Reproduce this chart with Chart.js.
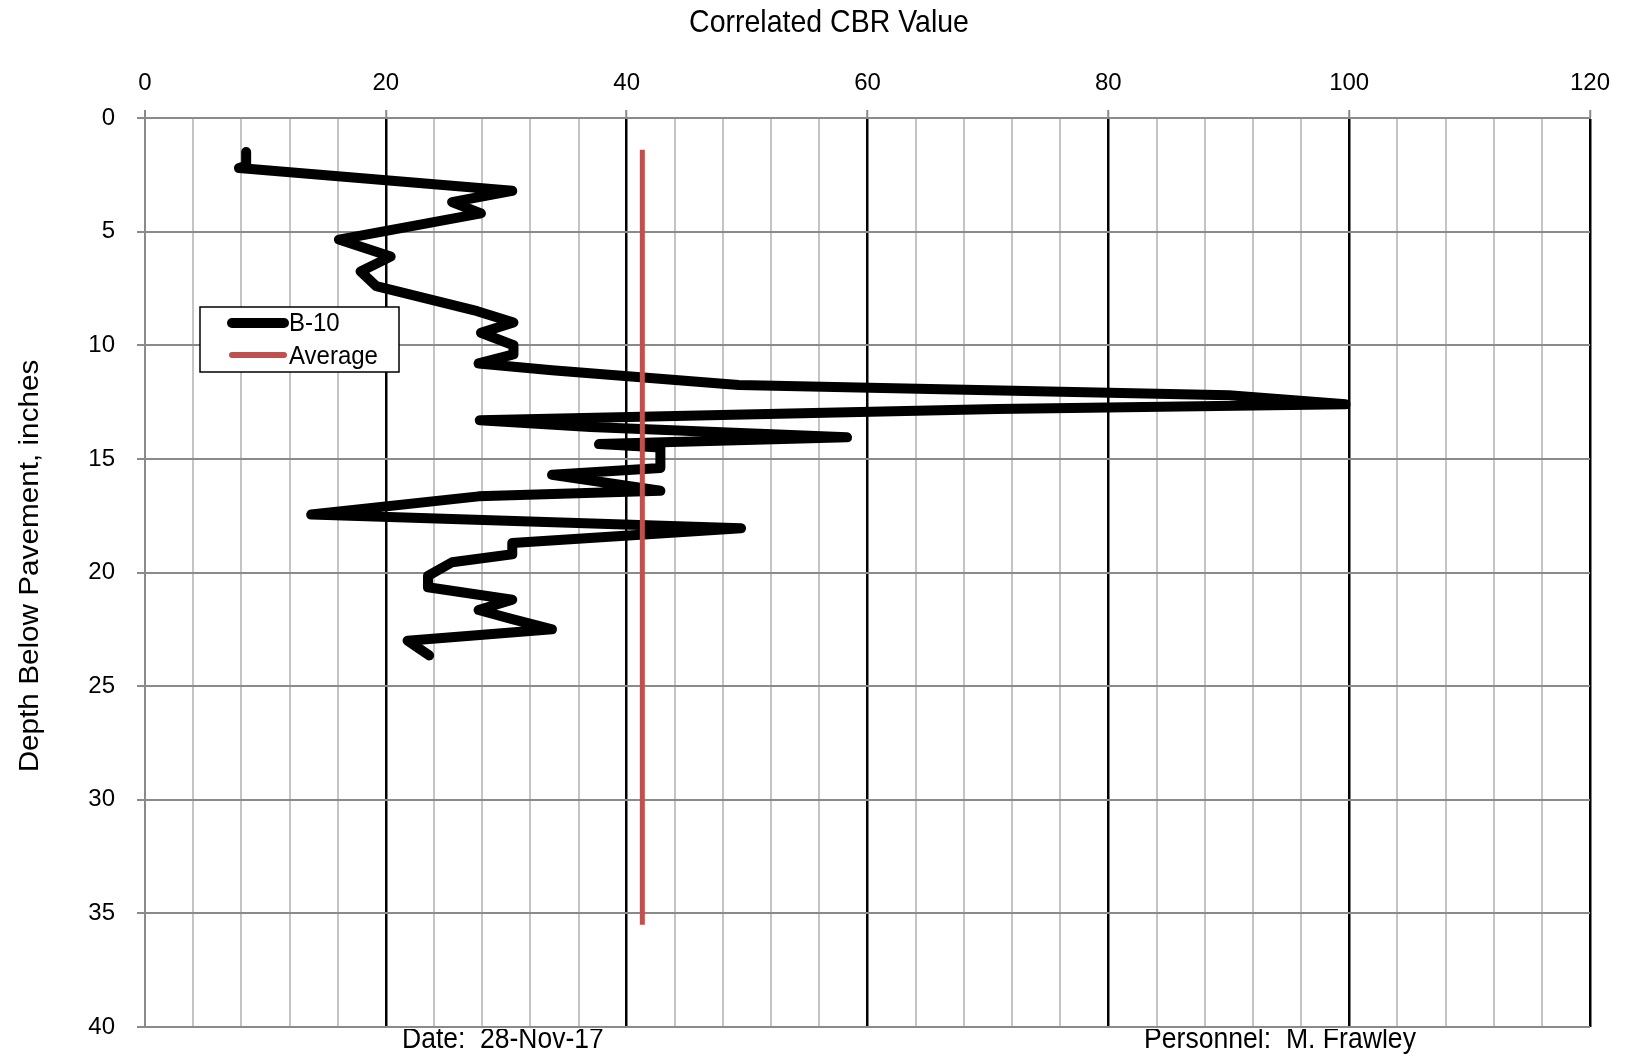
<!DOCTYPE html>
<html>
<head>
<meta charset="utf-8">
<title>Correlated CBR Value</title>
<script src="https://cdn.jsdelivr.net/npm/chart.js@4.4.0/dist/chart.umd.min.js"></script>
<style>
  html, body { margin: 0; padding: 0; background: #ffffff; }
  #wrap { width: 1625px; height: 1056px; position: relative; }
</style>
</head>
<body>
<div id="wrap"><canvas id="cbrChart"></canvas></div>
<script>
// B-10 DCP profile: correlated CBR against depth below pavement (inches)
const depthB10 = [1.5, 2.1, 2.2, 3.2, 3.7, 4.2, 5.35, 6.1, 6.75, 7.4, 8.5, 9.0, 9.45, 10.0, 10.4, 10.8,
                  11.1, 11.75, 12.2, 12.6, 12.8, 13.3, 13.6, 14.05, 14.35, 14.5, 15.4, 15.7, 16.4, 16.65,
                  17.45, 18.05, 18.7, 19.2, 19.55, 20.15, 20.65, 21.2, 21.65, 22.05, 22.5, 23.0, 23.65];
const cbrB10   = [8.4, 8.4, 7.8, 30.5, 25.5, 27.9, 16.1, 20.4, 17.9, 19.2, 27.6, 30.6, 27.9, 30.6, 30.6, 27.7,
                  33.8, 49.3, 90.0, 99.7, 70.8, 27.8, 37.0, 58.3, 37.7, 42.8, 42.8, 33.8, 42.8, 27.7,
                  13.8, 49.5, 30.5, 30.5, 25.5, 23.5, 23.5, 30.5, 27.7, 30.5, 33.8, 21.8, 23.6];

// Average CBR line
const depthAvg = [1.4, 35.5];
const cbrAvg   = [41.3, 41.3];

// Axis ranges and tick labels
const xTickLabels = [0, 20, 40, 60, 80, 100, 120];
const yTickLabels = [0, 5, 10, 15, 20, 25, 30, 35, 40];
const xMinorStep = 4;

// Texts
const xTitle = 'Correlated CBR Value';
const yTitle = 'Depth Below Pavement, inches';
const dateText = 'Date:  28-Nov-17';
const personnelText = 'Personnel:  M. Frawley';
const seriesNames = ['B-10', 'Average'];

const FONT = '"Liberation Sans", Arial, sans-serif';
const STRETCH = 1.1;
const RED = '#c0504d';

function toPoints(xs, ys) { return xs.map((x, i) => ({ x: x, y: ys[i] })); }

// Text with the slight vertical stretch used throughout the sheet
function drawText(ctx, text, x, y, size, align, rotate) {
  ctx.save();
  ctx.translate(x, y);
  if (rotate) { ctx.rotate(-Math.PI / 2); ctx.scale(STRETCH, 1); }
  else { ctx.scale(1, STRETCH); }
  ctx.font = size + 'px ' + FONT;
  ctx.fillStyle = '#000';
  ctx.textAlign = align;
  ctx.textBaseline = 'alphabetic';
  ctx.fillText(text, 0, 0);
  ctx.restore();
}

const decorations = {
  id: 'decorations',
  afterDraw(chart) {
    const ctx = chart.ctx;
    const area = chart.chartArea;
    // titles
    drawText(ctx, xTitle, 829, 32, 28.5, 'center', false);
    drawText(ctx, yTitle, 38, 566, 27, 'center', true);

    // footer texts, tucked just under the plot edge
    ctx.save();
    ctx.beginPath();
    ctx.rect(0, area.bottom + 2, chart.width, chart.height - area.bottom);
    ctx.clip();
    drawText(ctx, dateText, 402, 1048, 26.5, 'left', false);
    drawText(ctx, personnelText, 1144, 1048, 26.6, 'left', false);
    ctx.restore();

    // legend box
    const ds = chart.data.datasets;
    ctx.save();
    ctx.fillStyle = '#fff';
    ctx.fillRect(200, 307, 199, 65);
    ctx.strokeStyle = '#000';
    ctx.lineWidth = 1.5;
    ctx.strokeRect(200, 307, 199, 65);
    const rows = [{ y: 323, base: 331 }, { y: 355, base: 364 }];
    ds.forEach((d, i) => {
      ctx.beginPath();
      ctx.lineCap = 'round';
      ctx.strokeStyle = d.borderColor;
      ctx.lineWidth = i === 0 ? 10 : 6;
      ctx.moveTo(232, rows[i].y);
      ctx.lineTo(284, rows[i].y);
      ctx.stroke();
      drawText(ctx, d.label, 289, rows[i].base, 24, 'left', false);
    });
    ctx.restore();
  }
};

new Chart(document.getElementById('cbrChart'), {
  type: 'scatter',
  data: {
    datasets: [
      {
        label: seriesNames[0],
        data: toPoints(cbrB10, depthB10),
        showLine: true,
        borderColor: '#000000',
        backgroundColor: '#000000',
        borderWidth: 10,
        borderJoinStyle: 'round',
        borderCapStyle: 'round',
        pointRadius: 0,
        tension: 0,
        order: 1
      },
      {
        label: seriesNames[1],
        data: toPoints(cbrAvg, depthAvg),
        showLine: true,
        borderColor: RED,
        backgroundColor: RED,
        borderWidth: 5,
        borderCapStyle: 'butt',
        pointRadius: 0,
        tension: 0,
        order: 0
      }
    ]
  },
  options: {
    responsive: true,
    maintainAspectRatio: false,
    animation: false,
    devicePixelRatio: 1,
    layout: { padding: { left: 0, top: 0, right: 35, bottom: 29 } },
    plugins: { legend: { display: false }, tooltip: { enabled: false }, title: { display: false } },
    scales: {
      x: {
        type: 'linear',
        position: 'top',
        min: xTickLabels[0],
        max: xTickLabels[xTickLabels.length - 1],
        afterFit(scale) {
          scale.height = 118;
          scale.paddingLeft = 0; scale.paddingRight = 0;
        },
        ticks: {
          stepSize: xMinorStep,
          autoSkip: false,
          maxRotation: 0,
          padding: 12,
          color: '#000',
          font: { family: FONT, size: 24 },
          callback: (v) => xTickLabels.includes(v) ? String(v) : ''
        },
        grid: {
          drawOnChartArea: true,
          tickLength: 8,
          color: (c) => {
            const v = c.tick ? c.tick.value : 0;
            if (v === 0) return '#8a8a8a';
            return xTickLabels.includes(v) ? '#000000' : '#c4c4c4';
          },
          lineWidth: (c) => {
            const v = c.tick ? c.tick.value : 0;
            return xTickLabels.includes(v) && v !== 0 ? 2.5 : 2;
          },
          tickColor: (c) => {
            const v = c.tick ? c.tick.value : 0;
            return xTickLabels.includes(v) ? '#8a8a8a' : 'rgba(0,0,0,0)';
          },
          tickWidth: 2
        },
        border: { display: true, color: '#8a8a8a', width: 2 }
      },
      y: {
        type: 'linear',
        reverse: true,
        min: yTickLabels[0],
        max: yTickLabels[yTickLabels.length - 1],
        afterFit(scale) {
          scale.width = 145;
          scale.paddingTop = 0; scale.paddingBottom = 0;
        },
        ticks: {
          stepSize: 5,
          autoSkip: false,
          padding: 22,
          color: '#000',
          font: { family: FONT, size: 24 },
          callback: (v) => yTickLabels.includes(v) ? String(v) : ''
        },
        grid: {
          tickLength: 8,
          color: '#8a8a8a',
          lineWidth: 2,
          tickColor: '#8a8a8a',
          tickWidth: 2
        },
        border: { display: true, color: '#8a8a8a', width: 2 }
      }
    }
  },
  plugins: [decorations]
});
</script>
</body>
</html>
